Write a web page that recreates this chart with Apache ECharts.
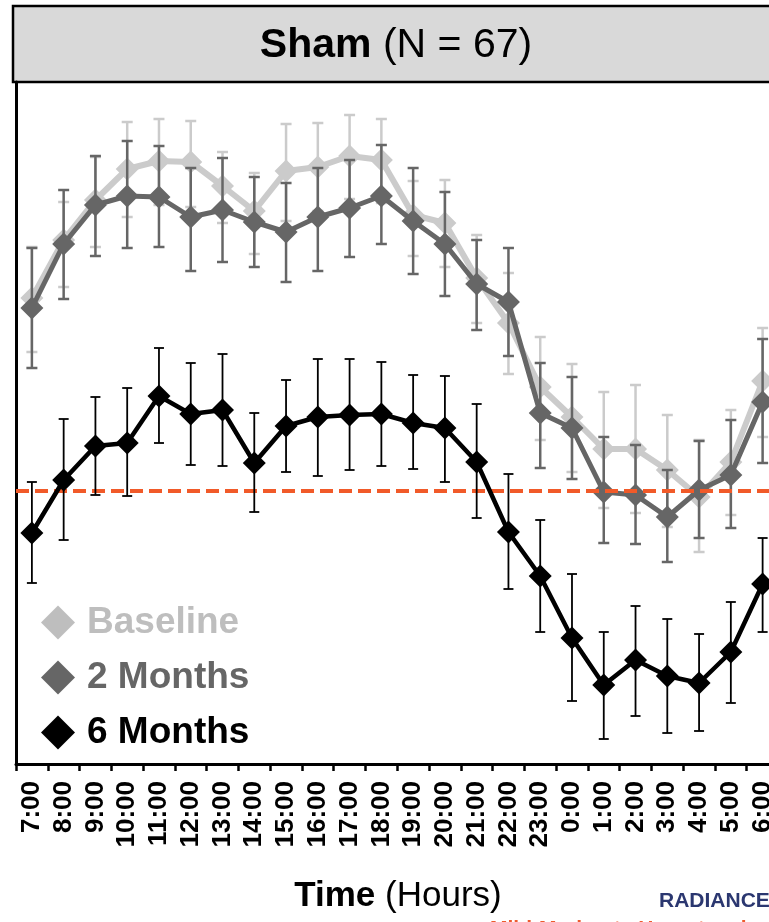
<!DOCTYPE html>
<html>
<head>
<meta charset="utf-8">
<script src="https://cdn.jsdelivr.net/npm/echarts@6/dist/echarts.min.js"></script>
<style>
html,body{margin:0;padding:0;background:#fff;}
#chart{width:769px;height:922px;}
</style>
</head>
<body>
<div id="chart"></div>
<script>
const hours = ['7:00','8:00','9:00','10:00','11:00','12:00','13:00','14:00','15:00','16:00','17:00','18:00','19:00','20:00','21:00','22:00','23:00','0:00','1:00','2:00','3:00','4:00','5:00','6:00'];

const baselineMean  = [19.3,25.1,29.1,32.2,33.0,32.9,30.5,28.0,32.0,32.4,33.5,33.1,27.6,26.8,21.3,16.8,10.4,7.4,4.2,4.2,2.1,-0.6,2.9,11.0];
const baselineUpper = [24.4,28.9,33.4,36.9,37.2,37.0,33.9,31.8,36.7,36.8,37.6,37.2,31.0,31.1,25.6,21.8,15.4,12.7,9.9,10.6,7.6,5.1,8.1,16.3];
const baselineLower = [13.9,20.4,24.4,27.4,28.6,28.4,26.8,23.7,27.0,28.0,29.2,28.8,23.5,22.4,16.8,11.7,5.1,1.9,-1.7,-2.2,-3.6,-6.1,-2.4,5.4];

const m2Mean  = [18.3,24.7,28.6,29.5,29.4,27.4,28.1,26.9,25.9,27.4,28.3,29.5,27.0,24.7,20.7,18.9,7.8,6.3,-0.1,-0.4,-2.6,0.1,1.6,8.9];
const m2Upper = [24.3,30.1,33.5,35.0,34.5,32.3,33.3,31.4,30.8,32.3,33.1,34.6,32.3,29.9,25.1,24.3,12.8,11.4,5.4,4.6,2.1,5.0,7.1,15.2];
const m2Lower = [12.3,19.2,23.5,24.3,24.4,22.0,22.9,22.4,20.9,22.0,23.4,24.7,21.7,19.5,16.1,13.5,2.3,1.2,-5.2,-5.3,-7.1,-4.7,-3.7,2.8];

const m6Mean  = [-4.2,1.1,4.5,4.8,9.5,7.7,8.1,2.8,6.5,7.4,7.6,7.7,6.8,6.3,2.9,-4.1,-8.5,-14.7,-19.4,-16.9,-18.5,-19.2,-16.1,-9.3];
const m6Upper = [0.9,7.2,9.4,10.3,14.3,12.8,13.7,7.8,11.1,13.2,13.2,12.9,11.6,11.5,8.7,1.7,-2.9,-8.3,-14.1,-11.5,-12.8,-14.3,-11.1,-4.7];
const m6Lower = [-9.2,-4.9,-0.4,-0.5,4.8,2.6,2.5,-2.1,1.9,1.5,2.1,2.5,2.2,0.9,-2.7,-9.8,-14.1,-21.0,-24.8,-22.5,-24.2,-24.0,-21.2,-14.1];

const referenceLevel = 0;

const FONT = "'Liberation Sans', Arial, Helvetica, sans-serif";
const C_BASE = '#cbcbcb', C_M2 = '#666666', C_M6 = '#000000';

function errData(lo, hi){ return hours.map((h,i)=>[i, lo[i], hi[i]]); }
function errRender(color, width, cap){
  return function(params, api){
    const i = api.value(0);
    const a = api.coord([i, api.value(1)]);
    const b = api.coord([i, api.value(2)]);
    const st = {stroke: color, lineWidth: width};
    return {type:'group', children:[
      {type:'line', shape:{x1:a[0],y1:a[1],x2:b[0],y2:b[1]}, style:st},
      {type:'line', shape:{x1:a[0]-cap,y1:a[1],x2:a[0]+cap,y2:a[1]}, style:st},
      {type:'line', shape:{x1:b[0]-cap,y1:b[1],x2:b[0]+cap,y2:b[1]}, style:st}
    ]};
  };
}

const chart = echarts.init(document.getElementById('chart'), null, {renderer:'canvas'});
chart.setOption({
  animation:false,
  backgroundColor:'#ffffff',
  grid:{left:16, right:-9.5, top:82, bottom:158, containLabel:false, outerBoundsMode:'none'},
  xAxis:{
    type:'category', data:hours, boundaryGap:true,
    axisLine:{show:true, onZero:false, lineStyle:{color:'#000', width:3}},
    axisTick:{show:true, length:7, lineStyle:{color:'#000', width:2.5}},
    axisLabel:{rotate:90, fontSize:26, fontWeight:'bold', color:'#000', fontFamily:FONT, margin:17, interval:0}
  },
  yAxis:{
    type:'value', min:-27.3, max:40.9,
    axisLine:{show:true, onZero:false, lineStyle:{color:'#000', width:3}},
    axisTick:{show:false}, axisLabel:{show:false}, splitLine:{show:false}
  },
  legend:{
    orient:'vertical', left:36, top:599, itemWidth:34, itemHeight:34, itemGap:18,
    icon:'diamond',
    textStyle:{fontSize:37, fontWeight:'bold', fontFamily:FONT, lineHeight:34, padding:[0,0,0,7]},
    data:[
      {name:'Baseline', itemStyle:{color:'#bebebe'}, textStyle:{color:'#bebebe'}},
      {name:'2 Months', itemStyle:{color:C_M2}, textStyle:{color:C_M2}},
      {name:'6 Months', itemStyle:{color:C_M6}, textStyle:{color:C_M6}}
    ]
  },
  graphic:[
    {type:'rect', shape:{x:13, y:6, width:800, height:76}, style:{fill:'#d9d9d9', stroke:'#000', lineWidth:2.5}, z:0},
    {type:'text', x:396, y:46, style:{
      text:'{b|Sham }{n|(N = 67)}', align:'center', verticalAlign:'middle',
      rich:{b:{fontSize:41, fontWeight:'bold', fontFamily:FONT, fill:'#000'}, n:{fontSize:41, fontFamily:FONT, fill:'#000'}}
    }, z:5},
    {type:'text', x:398, y:896, style:{
      text:'{b|Time }{n|(Hours)}', align:'center', verticalAlign:'middle',
      rich:{b:{fontSize:35, fontWeight:'bold', fontFamily:FONT, fill:'#000'}, n:{fontSize:35, fontFamily:FONT, fill:'#000'}}
    }},
    {type:'text', x:659, y:901, style:{text:'RADIANCE', fontSize:21, fontWeight:'bold', fontFamily:FONT, fill:'#2b3770', verticalAlign:'middle'}},
    {type:'text', x:490, y:919, style:{text:'Mild-Moderate Hypertension', fontSize:21, fontWeight:'bold', fontFamily:FONT, fill:'#ee5a2f', verticalAlign:'top'}}
  ],
  series:[
    {type:'custom', name:'Baseline err', z:1, renderItem:errRender(C_BASE, 2.5, 5.5), data:errData(baselineLower, baselineUpper), encode:{x:0, y:[1,2]}, silent:true},
    {type:'line', name:'Baseline', z:2, data:baselineMean, symbol:'diamond', symbolSize:23,
      lineStyle:{color:C_BASE, width:6}, itemStyle:{color:C_BASE}},
    {type:'custom', name:'2 Months err', z:3, renderItem:errRender(C_M2, 2.5, 5.5), data:errData(m2Lower, m2Upper), encode:{x:0, y:[1,2]}, silent:true},
    {type:'line', name:'2 Months', z:4, data:m2Mean, symbol:'diamond', symbolSize:23,
      lineStyle:{color:C_M2, width:5}, itemStyle:{color:C_M2}},
    {type:'custom', name:'6 Months err', z:5, renderItem:errRender(C_M6, 1.8, 5), data:errData(m6Lower, m6Upper), encode:{x:0, y:[1,2]}, silent:true},
    {type:'line', name:'6 Months', z:6, data:m6Mean, symbol:'diamond', symbolSize:23,
      lineStyle:{color:C_M6, width:4.5}, itemStyle:{color:C_M6}},
    {type:'line', name:'ref', z:10, data:[], silent:true,
      markLine:{silent:true, symbol:['none','none'], label:{show:false},
        lineStyle:{color:'#f15a29', width:4, type:[13,6]},
        data:[{yAxis:referenceLevel, lineStyle:{color:'#f15a29', width:4, type:[13,6]}}]}}
  ]
});
</script>
</body>
</html>
